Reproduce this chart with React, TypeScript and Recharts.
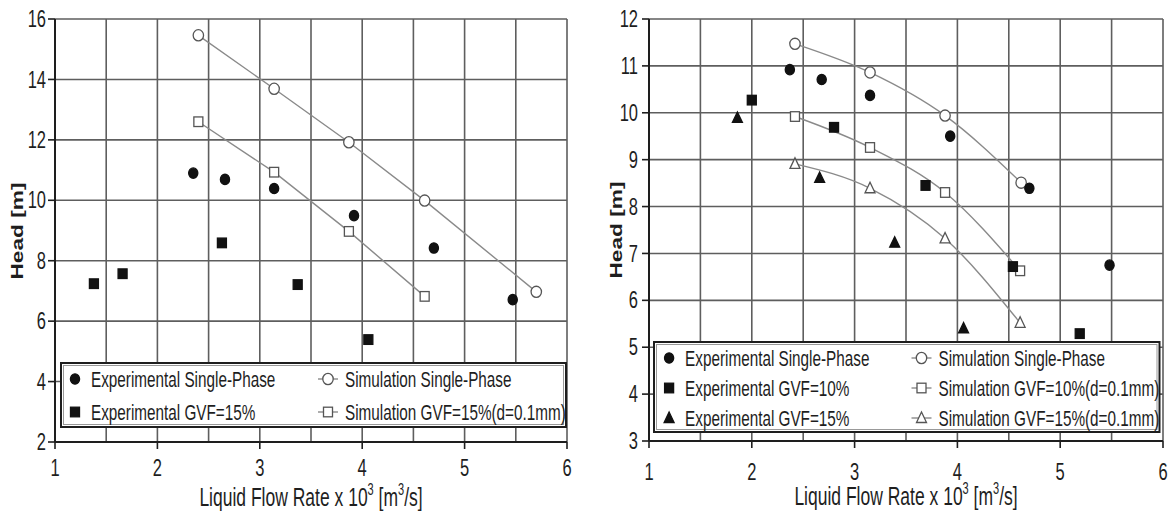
import React from "react"
import { ComposedChart, Scatter, Line, XAxis, YAxis, CartesianGrid } from "recharts"

type Pt = { x: number; y: number }
type Kind = "circle" | "square" | "triangle"

// left panel: single-phase vs GVF=15%
const leftExpSingle: Pt[] = [
  { x: 2.35, y: 10.9 },
  { x: 2.66, y: 10.69 },
  { x: 3.14, y: 10.39 },
  { x: 3.92, y: 9.49 },
  { x: 4.7, y: 8.42 },
  { x: 5.47, y: 6.71 },
]
const leftExpGvf15: Pt[] = [
  { x: 1.38, y: 7.24 },
  { x: 1.66, y: 7.57 },
  { x: 2.63, y: 8.59 },
  { x: 3.37, y: 7.21 },
  { x: 4.06, y: 5.39 },
]
const leftSimSingle: Pt[] = [
  { x: 2.4, y: 15.46 },
  { x: 3.14, y: 13.69 },
  { x: 3.87, y: 11.92 },
  { x: 4.61, y: 9.99 },
  { x: 5.7, y: 6.97 },
]
const leftSimGvf15: Pt[] = [
  { x: 2.4, y: 12.6 },
  { x: 3.14, y: 10.93 },
  { x: 3.87, y: 8.97 },
  { x: 4.61, y: 6.82 },
]

// right panel: single-phase, GVF=10%, GVF=15%
const rightExpSingle: Pt[] = [
  { x: 2.37, y: 10.92 },
  { x: 2.68, y: 10.71 },
  { x: 3.15, y: 10.37 },
  { x: 3.93, y: 9.5 },
  { x: 4.7, y: 8.39 },
  { x: 5.48, y: 6.75 },
]
const rightExpGvf10: Pt[] = [
  { x: 2.0, y: 10.27 },
  { x: 2.8, y: 9.69 },
  { x: 3.69, y: 8.45 },
  { x: 4.54, y: 6.72 },
  { x: 5.19, y: 5.29 },
]
const rightExpGvf15: Pt[] = [
  { x: 1.86, y: 9.89 },
  { x: 2.66, y: 8.61 },
  { x: 3.39, y: 7.23 },
  { x: 4.06, y: 5.4 },
]
const rightSimSingle: Pt[] = [
  { x: 2.42, y: 11.47 },
  { x: 3.15, y: 10.86 },
  { x: 3.88, y: 9.94 },
  { x: 4.62, y: 8.51 },
]
const rightSimGvf10: Pt[] = [
  { x: 2.42, y: 9.92 },
  { x: 3.15, y: 9.26 },
  { x: 3.88, y: 8.3 },
  { x: 4.61, y: 6.63 },
]
const rightSimGvf15: Pt[] = [
  { x: 2.42, y: 8.91 },
  { x: 3.15, y: 8.39 },
  { x: 3.88, y: 7.32 },
  { x: 4.61, y: 5.52 },
]

const xTicks = [1, 1.5, 2, 2.5, 3, 3.5, 4, 4.5, 5, 5.5, 6]
const leftYTicks = [2, 4, 6, 8, 10, 12, 14, 16]
const rightYTicks = [3, 4, 5, 6, 7, 8, 9, 10, 11, 12]

const leftLegendRows = [
  { kind: "circle" as Kind, exp: "Experimental Single-Phase", sim: "Simulation Single-Phase" },
  { kind: "square" as Kind, exp: "Experimental GVF=15%", sim: "Simulation GVF=15%(d=0.1mm)" },
]
const rightLegendRows = [
  { kind: "circle" as Kind, exp: "Experimental Single-Phase", sim: "Simulation Single-Phase" },
  { kind: "square" as Kind, exp: "Experimental GVF=10%", sim: "Simulation GVF=10%(d=0.1mm)" },
  { kind: "triangle" as Kind, exp: "Experimental GVF=15%", sim: "Simulation GVF=15%(d=0.1mm)" },
]

const FONT = '"Liberation Sans", Arial, sans-serif'
const INK = "#1e1e1e"
const GRID = "#5e5e5e"
const SIM_LINE = "#8a8a8a"
// the source picture is stretched vertically, text included
const STRETCH = 1.42

function StretchText({ x, y, anchor = "middle", size, bold, rotate, children }: any) {
  return (
    <text
      transform={`translate(${x},${y}) scale(1,${STRETCH})${rotate ? " rotate(-90)" : ""}`}
      textAnchor={anchor}
      dominantBaseline="central"
      fontSize={size}
      fontWeight={bold ? "bold" : "normal"}
      fontFamily={FONT}
      fill={INK}
    >
      {children}
    </text>
  )
}

function Marker({ kind, filled, cx, cy }: { kind: Kind; filled: boolean; cx: number; cy: number }) {
  const fill = filled ? "#111" : "#fff"
  const stroke = filled ? "#111" : "#555"
  if (cx == null || cy == null) return <g />
  if (kind === "circle") {
    return <ellipse cx={cx} cy={cy} rx={filled ? 4.6 : 5.2} ry={filled ? 5.2 : 5.6} fill={fill} stroke={stroke} strokeWidth={1.3} />
  }
  if (kind === "square") {
    return <rect x={cx - 4.5} y={cy - 4.8} width={9} height={9.6} fill={fill} stroke={stroke} strokeWidth={1.3} />
  }
  return (
    <polygon
      points={`${cx},${cy - 6} ${cx + 5},${cy + 4.5} ${cx - 5},${cy + 4.5}`}
      fill={fill}
      stroke={stroke}
      strokeWidth={1.3}
    />
  )
}

function XTick({ x, y, payload, labelDy }: any) {
  if (!Number.isInteger(payload.value)) return <g />
  return (
    <g>
      <line x1={x} x2={x} y1={y} y2={y + 7} stroke={INK} strokeWidth={1.6} />
      <StretchText x={x} y={y + labelDy} size={16.5}>
        {payload.value}
      </StretchText>
    </g>
  )
}

function YTick({ x, y, payload, gap }: any) {
  return (
    <g>
      <line x1={x - 7} x2={x} y1={y} y2={y} stroke={INK} strokeWidth={1.6} />
      <StretchText x={x - gap} y={y} anchor="end" size={16.5}>
        {payload.value}
      </StretchText>
    </g>
  )
}

function XTitle({ x, y }: { x: number; y: number }) {
  return (
    <text
      transform={`translate(${x},${y}) scale(1,${STRETCH})`}
      textAnchor="middle"
      dominantBaseline="central"
      fontSize={17.5}
      fontFamily={FONT}
      fill={INK}
    >
      Liquid Flow Rate x 10
      <tspan dy={-6} fontSize={11}>3</tspan>
      <tspan dy={6}> [m</tspan>
      <tspan dy={-6} fontSize={11}>3</tspan>
      <tspan dy={6}>/s]</tspan>
    </text>
  )
}

function LegendBox({ rows, box, rowY, expX, simX }: any) {
  return (
    <svg width={box.w + 4} height={box.h + 4} style={{ position: "absolute", left: box.x - 2, top: box.y - 2, pointerEvents: "none" }}>
      <g transform="translate(2,2)">
        <rect x={0} y={0} width={box.w} height={box.h} fill="#fff" stroke={INK} strokeWidth={2} />
        <rect x={2.5} y={2.5} width={box.w - 5} height={box.h - 5} fill="none" stroke="#999" strokeWidth={1} />
        {rows.map((r: any, i: number) => {
          const y = rowY[i] - box.y
          return (
            <g key={r.exp}>
              <Marker kind={r.kind} filled cx={expX - box.x} cy={y} />
              <StretchText x={expX - box.x + 16} y={y} anchor="start" size={15.3}>
                {r.exp}
              </StretchText>
              <line x1={simX - box.x - 10} x2={simX - box.x + 10} y1={y} y2={y} stroke={SIM_LINE} strokeWidth={1.4} />
              <Marker kind={r.kind} filled={false} cx={simX - box.x} cy={y} />
              <StretchText x={simX - box.x + 17} y={y} anchor="start" size={15.3}>
                {r.sim}
              </StretchText>
            </g>
          )
        })}
      </g>
    </svg>
  )
}

function simDot(kind: Kind) {
  return (p: any) => <Marker key={`d${p.index}`} kind={kind} filled={false} cx={p.cx} cy={p.cy} />
}

function expShape(kind: Kind) {
  return (p: any) => <Marker kind={kind} filled cx={p.cx} cy={p.cy} />
}

function LeftPanel() {
  return (
    <div style={{ position: "absolute", left: 0, top: 0, width: 590, height: 512 }}>
      <ComposedChart width={590} height={512} margin={{ top: 19, right: 23, bottom: 0, left: 0 }}>
        <CartesianGrid stroke={GRID} strokeWidth={1.6} />
        <XAxis
          type="number"
          dataKey="x"
          domain={[1, 6]}
          ticks={xTicks}
          interval={0}
          height={70}
          tickSize={0}
          tickMargin={0}
          tickLine={false}
          axisLine={{ stroke: INK, strokeWidth: 2 }}
          tick={(p: any) => <XTick {...p} labelDy={26} />}
        />
        <YAxis
          type="number"
          dataKey="y"
          domain={[2, 16]}
          ticks={leftYTicks}
          interval={0}
          width={55}
          tickSize={0}
          tickMargin={0}
          tickLine={false}
          axisLine={{ stroke: INK, strokeWidth: 2 }}
          tick={(p: any) => <YTick {...p} gap={9} />}
        />
        <Line data={leftSimSingle} dataKey="y" type="linear" stroke={SIM_LINE} strokeWidth={1.4} dot={simDot("circle")} activeDot={false} isAnimationActive={false} />
        <Line data={leftSimGvf15} dataKey="y" type="linear" stroke={SIM_LINE} strokeWidth={1.4} dot={simDot("square")} activeDot={false} isAnimationActive={false} />
        <Scatter data={leftExpSingle} shape={expShape("circle")} isAnimationActive={false} />
        <Scatter data={leftExpGvf15} shape={expShape("square")} isAnimationActive={false} />
      </ComposedChart>
      <svg width={590} height={512} style={{ position: "absolute", left: 0, top: 0, pointerEvents: "none" }}>
        <StretchText x={17} y={231} size={16} bold rotate>
          Head [m]
        </StretchText>
        <XTitle x={311} y={498} />
      </svg>
      <LegendBox rows={leftLegendRows} box={{ x: 61, y: 363, w: 505, h: 64 }} rowY={[379, 412]} expX={75} simX={328} />
    </div>
  )
}

function RightPanel() {
  return (
    <div style={{ position: "absolute", left: 590, top: 0, width: 583, height: 512 }}>
      <ComposedChart width={583} height={512} margin={{ top: 19, right: 10, bottom: 0, left: 0 }}>
        <CartesianGrid stroke={GRID} strokeWidth={1.6} />
        <XAxis
          type="number"
          dataKey="x"
          domain={[1, 6]}
          ticks={xTicks}
          interval={0}
          height={71}
          tickSize={0}
          tickMargin={0}
          tickLine={false}
          axisLine={{ stroke: INK, strokeWidth: 2 }}
          tick={(p: any) => <XTick {...p} labelDy={31} />}
        />
        <YAxis
          type="number"
          dataKey="y"
          domain={[3, 12]}
          ticks={rightYTicks}
          interval={0}
          width={59}
          tickSize={0}
          tickMargin={0}
          tickLine={false}
          axisLine={{ stroke: INK, strokeWidth: 2 }}
          tick={(p: any) => <YTick {...p} gap={11} />}
        />
        <Line data={rightSimSingle} dataKey="y" type="monotone" stroke={SIM_LINE} strokeWidth={1.4} dot={simDot("circle")} activeDot={false} isAnimationActive={false} />
        <Line data={rightSimGvf10} dataKey="y" type="monotone" stroke={SIM_LINE} strokeWidth={1.4} dot={simDot("square")} activeDot={false} isAnimationActive={false} />
        <Line data={rightSimGvf15} dataKey="y" type="monotone" stroke={SIM_LINE} strokeWidth={1.4} dot={simDot("triangle")} activeDot={false} isAnimationActive={false} />
        <Scatter data={rightExpSingle} shape={expShape("circle")} isAnimationActive={false} />
        <Scatter data={rightExpGvf10} shape={expShape("square")} isAnimationActive={false} />
        <Scatter data={rightExpGvf15} shape={expShape("triangle")} isAnimationActive={false} />
      </ComposedChart>
      <svg width={583} height={512} style={{ position: "absolute", left: 0, top: 0, pointerEvents: "none" }}>
        <StretchText x={26} y={230} size={16} bold rotate>
          Head [m]
        </StretchText>
        <XTitle x={316} y={497} />
      </svg>
      <LegendBox rows={rightLegendRows} box={{ x: 63.5, y: 342, w: 505.5, h: 90 }} rowY={[358, 388, 418]} expX={78.6} simX={331} />
    </div>
  )
}

export default function App() {
  return (
    <div style={{ position: "absolute", left: 0, top: 0, width: 1173, height: 512, background: "#fff", fontFamily: FONT }}>
      <LeftPanel />
      <RightPanel />
    </div>
  )
}
